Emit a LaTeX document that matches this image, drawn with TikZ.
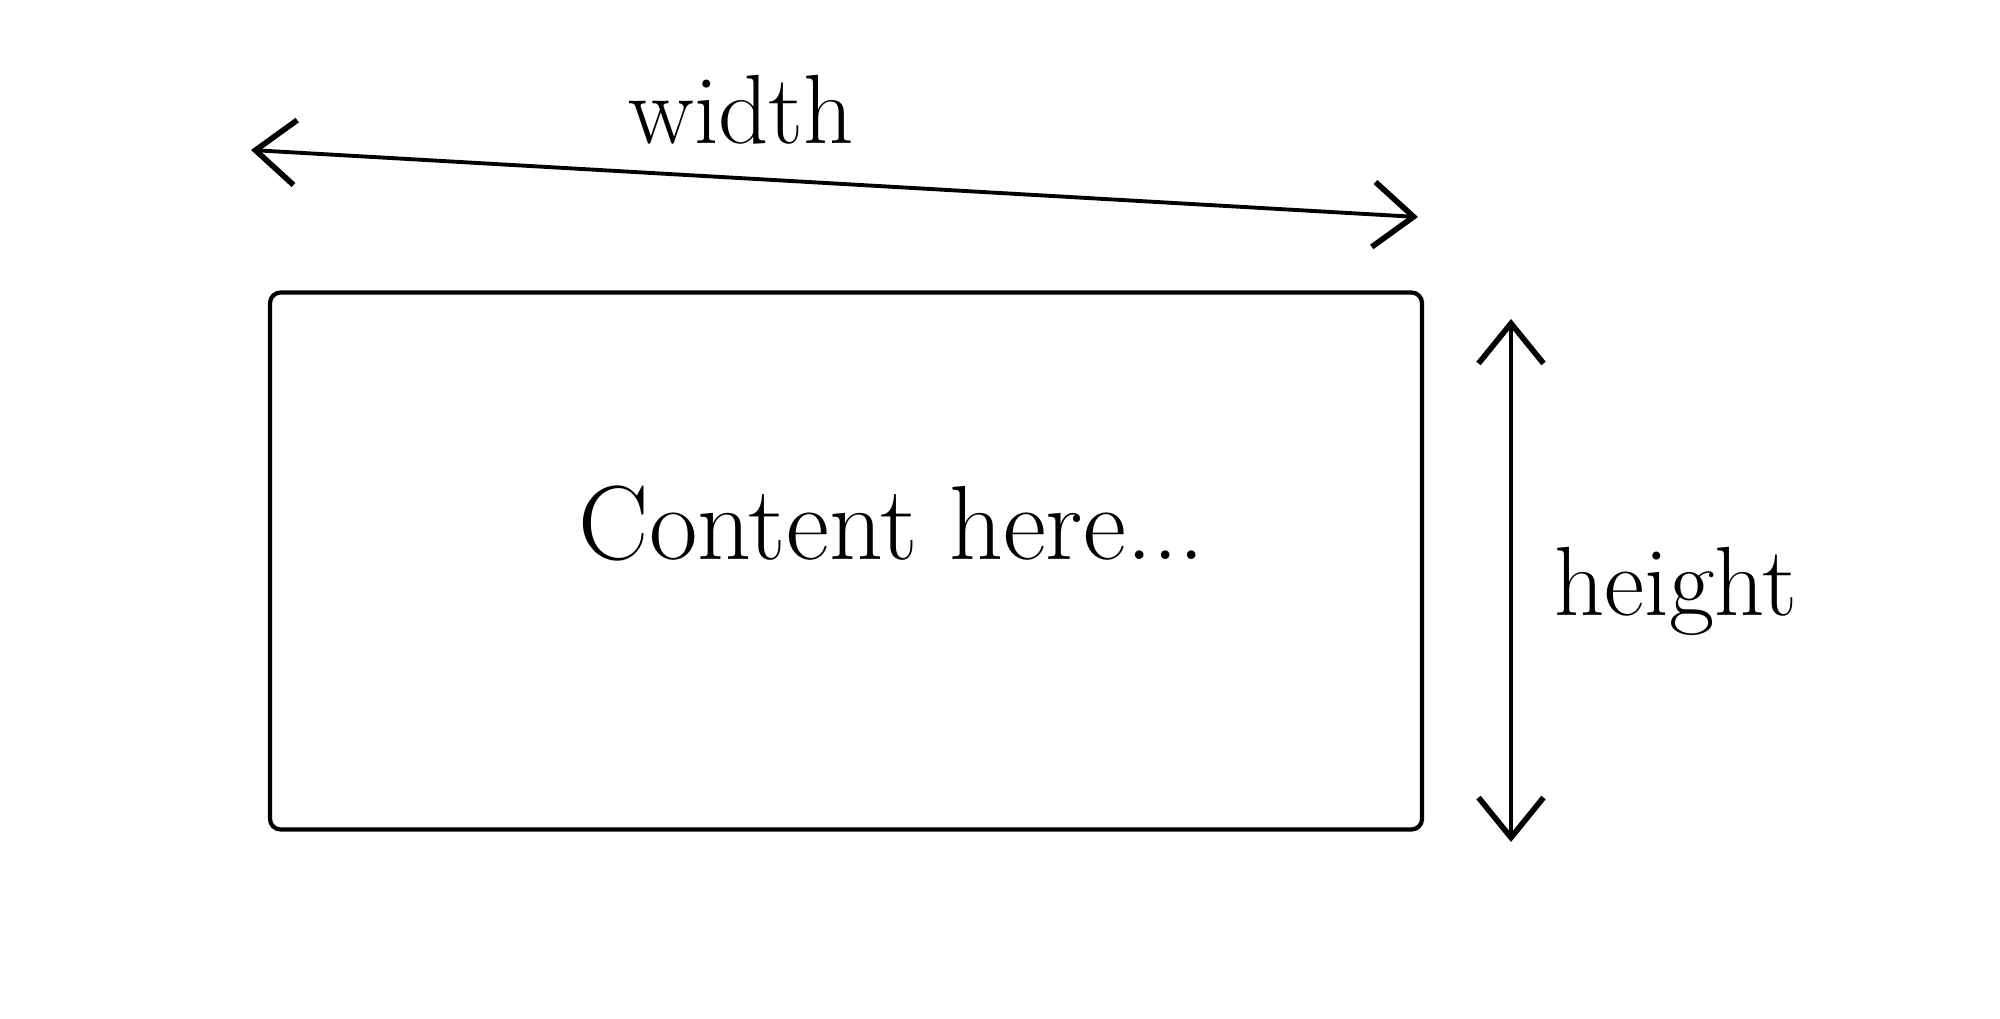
\documentclass[tikz,border=0pt]{standalone}
\usepackage{pgf}
\usetikzlibrary{arrows.meta}
\usetikzlibrary{positioning}
\usetikzlibrary{calc}

\begin{document}
\begin{tikzpicture}[>={Straight Barb[length=4mm,width=6.5mm,line width=1.6pt]},auto,
					line width=1.2pt]
					\tikzstyle{every node}=[font=\fontsize{28}{34}\selectfont]
					\tikzstyle{dim}=[<->,line width=1.1pt,line cap=round]
					
					\useasboundingbox (0,0) rectangle (20,10.18);
					
					\node[draw,minimum width=11.52cm,minimum height=5.37cm,rounded corners=3pt] (box) at (8.46,4.57) {};
					\node[font=\fontsize{30}{36}\selectfont] (content) at (8.92,4.95) {Content here...};
					
					\coordinate (W_l) at (2.51,8.68);
					\coordinate (W_r) at (14.18,8.01);
					\coordinate (H_t) at (15.11,6.99);
					\coordinate (H_b) at (15.11,1.76);
					
					\path (W_l) edge [dim] node[above=2mm,pos=0.42,sloped=false] {width} (W_r)
					(H_t) edge [dim] node[right=3mm,pos=0.52] {height} (H_b)
					;
					\end{tikzpicture}
\end{document}
